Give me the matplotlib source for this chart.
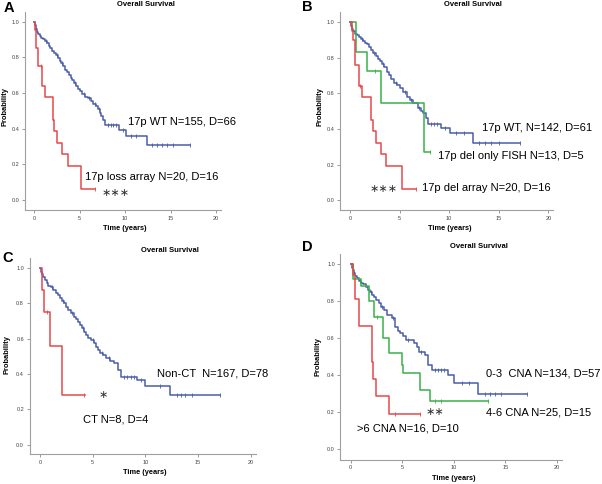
import numpy as np
import matplotlib
matplotlib.use("Agg")
import matplotlib.pyplot as plt

plt.rcParams['font.family'] = ['Liberation Sans', 'DejaVu Sans']

blue = '#4a5caa'
red = '#e5484b'
green = '#3bb04a'

# ---- Panel A ----
a_wt_t = [0.1, 0.2, 0.3, 0.45, 0.6, 0.8, 1.0, 1.2, 1.4, 1.6, 1.8, 2.0, 2.2, 2.4, 2.6, 2.8, 3.0, 3.2,
          3.4, 3.6, 3.8, 4.0, 4.2, 4.4, 4.6, 4.8, 5.0, 5.3, 5.6, 5.9, 6.2, 6.5, 6.8, 7.0, 7.2, 7.4,
          7.6, 7.8, 9.3, 10.1, 12.4]
a_wt_s = [0.98, 0.96, 0.94, 0.93, 0.92, 0.91, 0.90, 0.89, 0.88, 0.865, 0.85, 0.835, 0.825, 0.81,
          0.795, 0.78, 0.77, 0.75, 0.73, 0.715, 0.70, 0.685, 0.67, 0.655, 0.64, 0.625, 0.61, 0.595,
          0.58, 0.57, 0.555, 0.54, 0.525, 0.51, 0.49, 0.47, 0.45, 0.42, 0.395, 0.36, 0.31]
a_wt_end = 17.1
a_wt_cens = [1.3, 2.5, 3.1, 4.5, 5.5, 6.0, 6.7, 7.1, 8.1, 8.4, 8.7, 9.0, 9.8, 10.6, 11.2,
             13.0, 13.5, 14.0, 14.6, 15.3, 17.1]
a_loss_t = [0.1, 0.2, 0.45, 0.9, 1.2, 2.1, 2.2, 2.5, 3.1, 3.7, 5.1]
a_loss_s = [0.95, 0.85, 0.75, 0.64, 0.58, 0.45, 0.39, 0.32, 0.26, 0.19, 0.065]
a_loss_end = 6.7
a_loss_cens = [0.8, 6.7]

# ---- Panel B ----
b_wt_t = [0.1, 0.2, 0.35, 0.5, 0.7, 0.9, 1.1, 1.3, 1.5, 1.7, 1.9, 2.1, 2.35, 2.6, 2.8, 3.0, 3.2,
          3.4, 3.7, 3.9, 4.1, 4.4, 4.7, 5.0, 5.3, 5.7, 6.0, 6.4, 6.9, 7.2, 7.4, 7.7, 7.9, 9.2,
          10.1, 12.4]
b_wt_s = [0.98, 0.96, 0.95, 0.935, 0.925, 0.915, 0.905, 0.895, 0.885, 0.875, 0.86, 0.845, 0.825,
          0.81, 0.795, 0.78, 0.765, 0.745, 0.72, 0.70, 0.68, 0.66, 0.645, 0.63, 0.61, 0.58, 0.565,
          0.545, 0.52, 0.50, 0.49, 0.46, 0.43, 0.405, 0.375, 0.32]
b_wt_end = 17.1
b_wt_cens = [1.2, 2.4, 3.3, 4.6, 5.5, 6.2, 7.0, 8.2, 8.5, 8.8, 9.6, 10.7, 11.5, 13.0, 13.6,
             14.2, 15.0, 17.1]
b_fish_t = [0.6, 1.7, 3.1, 7.45]
b_fish_s = [0.83, 0.725, 0.545, 0.27]
b_fish_end = 8.1
b_fish_cens = [2.5, 8.1]
b_arr_t = [0.15, 0.3, 0.5, 0.9, 1.2, 2.1, 2.3, 2.6, 3.1, 3.6, 5.2]
b_arr_s = [0.95, 0.90, 0.76, 0.64, 0.58, 0.45, 0.39, 0.32, 0.26, 0.19, 0.065]
b_arr_end = 6.7
b_arr_cens = [1.0, 6.7]

# ---- Panel C ----
c_non_t = [0.1, 0.2, 0.3, 0.45, 0.63, 0.8, 1.0, 1.27, 1.5, 1.7, 1.9, 2.1, 2.3, 2.5, 2.7, 2.9, 3.2,
           3.4, 3.6, 3.8, 4.0, 4.2, 4.4, 4.6, 4.8, 5.1, 5.3, 5.5, 5.7, 6.0, 6.3, 6.6, 7.0, 7.4,
           7.7, 9.2, 10.0, 12.3]
c_non_s = [0.98, 0.965, 0.95, 0.93, 0.913, 0.90, 0.89, 0.875, 0.86, 0.845, 0.83, 0.815, 0.80,
           0.78, 0.765, 0.745, 0.725, 0.71, 0.695, 0.68, 0.66, 0.64, 0.62, 0.605, 0.59, 0.575,
           0.555, 0.535, 0.517, 0.505, 0.49, 0.475, 0.46, 0.42, 0.385, 0.365, 0.33, 0.283]
c_non_end = 17.1
c_non_cens = [1.1, 2.2, 3.0, 4.1, 5.0, 5.9, 6.5, 8.0, 8.3, 8.6, 8.9, 9.6, 11.4, 13.0, 13.4,
              13.8, 14.4, 17.1]
c_ct_t = [0.15, 0.4, 0.9, 2.1]
c_ct_s = [0.875, 0.75, 0.56, 0.28]
c_ct_end = 4.3
c_ct_cens = [0.7, 4.2]

# ---- Panel D ----
d_low_t = [0.1, 0.2, 0.3, 0.45, 0.58, 0.8, 1.0, 1.23, 1.45, 1.7, 1.9, 2.1, 2.3, 2.5, 2.7, 2.9,
           3.2, 3.5, 4.0, 4.3, 4.6, 4.8, 5.1, 5.4, 6.1, 6.4, 6.6, 7.2, 7.5, 7.9, 9.4, 10.0, 12.4]
d_low_s = [0.98, 0.965, 0.95, 0.935, 0.923, 0.91, 0.90, 0.89, 0.875, 0.86, 0.85, 0.835, 0.82,
           0.806, 0.79, 0.77, 0.75, 0.725, 0.707, 0.66, 0.64, 0.626, 0.61, 0.59, 0.572, 0.55,
           0.527, 0.51, 0.455, 0.428, 0.40, 0.36, 0.30]
d_low_end = 17.1
d_low_cens = [0.9, 2.0, 3.0, 4.1, 5.6, 6.8, 8.2, 8.5, 8.8, 9.1, 10.8, 11.5, 13.0, 13.5, 14.0,
              14.6, 17.1]
d_mid_t = [0.2, 1.0, 1.8, 2.3, 3.1, 3.75, 4.95, 5.1, 6.7, 7.7]
d_mid_s = [0.92, 0.88, 0.80, 0.715, 0.60, 0.52, 0.455, 0.41, 0.32, 0.26]
d_mid_end = 13.3
d_mid_cens = [2.6, 8.2, 8.8, 13.3]
d_high_t = [0.2, 0.4, 0.85, 2.1, 2.2, 2.5, 3.7]
d_high_s = [0.94, 0.81, 0.665, 0.47, 0.38, 0.285, 0.19]
d_high_end = 6.7
d_high_cens = [4.3, 6.7]

W, H = 602, 484
fig = plt.figure(figsize=(W / 100, H / 100), dpi=100)


def px_axes(left, top, width, height):
    return fig.add_axes([left / W, (H - top - height) / H, width / W, height / H])


def fig_text(x, y, s, **kw):
    fig.text(x / W, 1 - y / H, s, **kw)


def km(ax, t, s, end, cens, color):
    tt = np.concatenate([[0], t, [end]])
    ss = np.concatenate([[1.0], s, [s[-1]]])
    ax.step(tt, ss, where='post', color=color, lw=1.1)
    idx = np.searchsorted(tt, cens, side='right') - 1
    ax.plot(cens, ss[idx], ls='none', marker='|', ms=3, mew=0.6, color=color)


def setup(ax):
    ax.set_xlim(-1, 20.5)
    ax.set_ylim(-0.055, 1.055)
    ax.set_xticks([0, 5, 10, 15, 20])
    ax.set_yticks([0, 0.2, 0.4, 0.6, 0.8, 1.0])
    ax.set_yticklabels(['0.0', '0.2', '0.4', '0.6', '0.8', '1.0'])
    for side in ['top', 'right']:
        ax.spines[side].set_visible(False)
    for side in ['left', 'bottom']:
        ax.spines[side].set_color('#a0a0a0')
        ax.spines[side].set_linewidth(0.8)
    ax.tick_params(length=2.5, width=0.6, color='#888888', labelsize=4,
                   labelcolor='#444444', pad=1.5)


def panel(letter, ax_box, title_xy, ylab_xy, xlab_xy, letter_xy):
    ax = px_axes(*ax_box)
    setup(ax)
    fig_text(*title_xy, 'Overall Survival', fontsize=5.5, fontweight='bold', ha='center', va='center')
    fig_text(*ylab_xy, 'Probability', fontsize=5.4, fontweight='bold', rotation=90,
             ha='center', va='center')
    fig_text(*xlab_xy, 'Time (years)', fontsize=5.3, fontweight='bold', ha='center', va='center')
    fig_text(*letter_xy, letter, fontsize=10.5, fontweight='bold', ha='left', va='center')
    return ax


lab = dict(fontsize=8, ha='left', va='center')
star = dict(fontsize=8, ha='left', va='center', family='DejaVu Sans', color='#333333')

# A
ax = panel('A', (25, 11.7, 195.7, 198.3), (146, 5), (5, 107), (125, 228), (4, 8))
km(ax, a_wt_t, a_wt_s, a_wt_end, a_wt_cens, blue)
km(ax, a_loss_t, a_loss_s, a_loss_end, a_loss_cens, red)
ax.text(10.35, 0.44, '17p WT N=155, D=66', **lab)
ax.text(5.58, 0.13, '17p loss array N=20, D=16', **lab)
ax.text(7.42, 0.038, '\u2217\u2217\u2217', **star)

# B
ax = panel('B', (340.1, 12.2, 213.2, 197.9), (473, 5), (320, 107), (450, 229), (302, 7))
km(ax, b_wt_t, b_wt_s, b_wt_end, b_wt_cens, blue)
km(ax, b_fish_t, b_fish_s, b_fish_end, b_fish_cens, green)
km(ax, b_arr_t, b_arr_s, b_arr_end, b_arr_cens, red)
ax.text(13.28, 0.407, '17p WT, N=142, D=61', **lab)
ax.text(8.88, 0.248, '17p del only FISH N=13, D=5', **lab)
ax.text(2.02, 0.066, '\u2217\u2217\u2217', **star)
ax.text(7.23, 0.067, '17p del array N=20, D=16', **lab)

# C
ax = panel('C', (29.5, 258.3, 226.5, 196.1), (170, 251), (6.7, 355), (145, 472), (2, 258))
km(ax, c_non_t, c_non_s, c_non_end, c_non_cens, blue)
km(ax, c_ct_t, c_ct_s, c_ct_end, c_ct_cens, red)
ax.text(11.08, 0.404, 'Non-CT  N=167, D=78', **lab)
ax.text(5.6, 0.281, '\u2217', **star)
ax.text(4.11, 0.14, 'CT N=8, D=4', **lab)

# D
ax = panel('D', (340.4, 253.8, 221.5, 205.7), (478.7, 246), (318.3, 356.7), (453.7, 479), (302, 246.7))
km(ax, d_low_t, d_low_s, d_low_end, d_low_cens, blue)
km(ax, d_mid_t, d_mid_s, d_mid_end, d_mid_cens, green)
km(ax, d_high_t, d_high_s, d_high_end, d_high_cens, red)
ax.text(13.14, 0.41, '0-3  CNA N=134, D=57', **lab)
ax.text(13.14, 0.20, '4-6 CNA N=25, D=15', **lab)
ax.text(7.31, 0.20, '\u2217\u2217', **star)
ax.text(0.58, 0.113, '>6 CNA N=16, D=10', **lab)

fig.savefig('out.png', dpi=100)
